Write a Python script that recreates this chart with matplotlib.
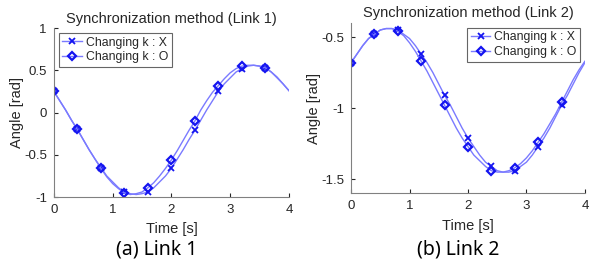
import matplotlib
matplotlib.use("Agg")
import matplotlib.pyplot as plt

# time axis (s), curves sampled every 0.1 s, markers every 0.4 s
time_s = [i / 10 for i in range(41)]

link1_x = [0.25, 0.14, 0.03, -0.09, -0.20, -0.32, -0.44, -0.55, -0.65, -0.75,
           -0.82, -0.89, -0.94, -0.96, -0.97, -0.96, -0.94, -0.89, -0.82, -0.75,
           -0.66, -0.55, -0.44, -0.32, -0.21, -0.09, 0.03, 0.14, 0.25, 0.34,
           0.41, 0.48, 0.52, 0.55, 0.56, 0.55, 0.53, 0.48, 0.41, 0.34, 0.26]
link1_o = [0.25, 0.14, 0.03, -0.09, -0.20, -0.32, -0.44, -0.55, -0.66, -0.76,
           -0.84, -0.90, -0.95, -0.97, -0.96, -0.94, -0.89, -0.83, -0.75, -0.66,
           -0.56, -0.45, -0.33, -0.21, -0.10, 0.03, 0.14, 0.24, 0.32, 0.40,
           0.47, 0.52, 0.55, 0.56, 0.56, 0.55, 0.53, 0.48, 0.42, 0.34, 0.26]

link2_x = [-0.68, -0.62, -0.56, -0.51, -0.48, -0.45, -0.44, -0.44, -0.45, -0.48,
           -0.51, -0.56, -0.62, -0.68, -0.75, -0.83, -0.91, -0.98, -1.06, -1.14,
           -1.21, -1.27, -1.33, -1.38, -1.41, -1.44, -1.45, -1.45, -1.44, -1.41,
           -1.38, -1.33, -1.27, -1.21, -1.14, -1.06, -0.98, -0.91, -0.83, -0.75, -0.68]
link2_o = [-0.68, -0.62, -0.56, -0.51, -0.48, -0.45, -0.44, -0.44, -0.46, -0.49,
           -0.54, -0.60, -0.67, -0.74, -0.82, -0.90, -0.98, -1.06, -1.14, -1.21,
           -1.27, -1.33, -1.37, -1.41, -1.44, -1.45, -1.45, -1.44, -1.42, -1.39,
           -1.35, -1.30, -1.24, -1.18, -1.11, -1.04, -0.96, -0.88, -0.80, -0.73, -0.67]

titles = ["Synchronization method (Link 1)", "Synchronization method (Link 2)"]
captions = ["(a) Link 1", "(b) Link 2"]
legend_labels = ["Changing k : X", "Changing k : O"]

plt.rcParams["font.family"] = ["Liberation Sans", "DejaVu Sans"]
text_color = "#262626"
line_color = "#7a7aff"
mark_color = "#1414f0"

fig = plt.figure(figsize=(5.92, 2.60), dpi=100)
ax1 = fig.add_axes([0.091, 0.242, 0.397, 0.650])
ax2 = fig.add_axes([0.593, 0.256, 0.395, 0.656])

panels = [
    (ax1, link1_x, link1_o, (-1, 1), [-1, -0.5, 0, 0.5, 1], ["-1", "-0.5", "0", "0.5", "1"], "upper left"),
    (ax2, link2_x, link2_o, (-1.6, -0.4), [-1.5, -1, -0.5], ["-1.5", "-1", "-0.5"], "upper right"),
]

marks = slice(0, 40, 4)

for i, (ax, ys_x, ys_o, ylim, yt, ytl, loc) in enumerate(panels):
    ax.plot(time_s, ys_x, color=line_color, lw=1.0, marker="x", markevery=marks,
            ms=4.5, mec=mark_color, mew=1.3, label=legend_labels[0])
    ax.plot(time_s, ys_o, color=line_color, lw=1.0, marker="D", markevery=marks,
            ms=4.5, mec=mark_color, mfc="none", mew=1.6, label=legend_labels[1])
    ax.set_xlim(0, 4)
    ax.set_ylim(*ylim)
    ax.set_xticks([0, 1, 2, 3, 4])
    ax.set_yticks(yt)
    ax.set_yticklabels(ytl)
    ax.tick_params(direction="in", length=3, labelsize=9.5, colors=text_color, pad=5)
    for s in ["top", "right"]:
        ax.spines[s].set_visible(False)
    for s in ["left", "bottom"]:
        ax.spines[s].set_color("#808080")
        ax.spines[s].set_linewidth(0.8)
    ax.set_title(titles[i], fontsize=10.5, color=text_color, pad=4)
    ax.set_xlabel("Time [s]", fontsize=10.5, color=text_color, labelpad=4.5)
    ax.set_ylabel("Angle [rad]", fontsize=10.5, color=text_color, labelpad=0)
    leg = ax.legend(loc=loc, fontsize=8.8, frameon=True, fancybox=False,
                    handlelength=1.6, handletextpad=0.3, borderpad=0.3,
                    labelspacing=0.2, borderaxespad=0.4)
    leg.get_frame().set_edgecolor("#404040")
    leg.get_frame().set_linewidth(0.8)
    for t in leg.get_texts():
        t.set_color(text_color)

fig.text(0.264, 0.022, captions[0], fontsize=14, ha="center", va="baseline",
         family=["Noto Sans", "DejaVu Sans"])
fig.text(0.774, 0.022, captions[1], fontsize=14, ha="center", va="baseline",
         family=["Noto Sans", "DejaVu Sans"])

fig.savefig("out.png", dpi=100)
